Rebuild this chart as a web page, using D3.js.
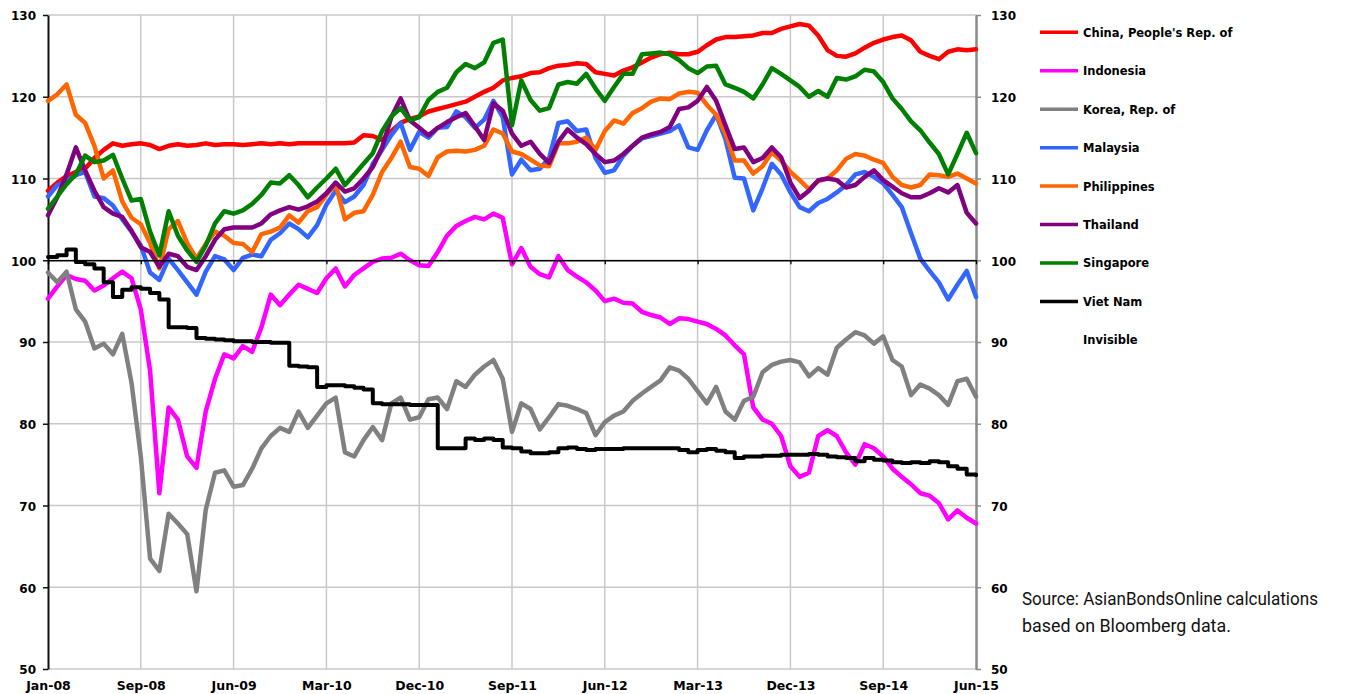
<!DOCTYPE html>
<html>
<head>
<meta charset="utf-8">
<script src="https://cdn.jsdelivr.net/npm/d3@7"></script>
<style>
  body { margin: 0; background: #fff; }
</style>
</head>
<body>
<svg id="chart" width="1349" height="694"></svg>
<script>
// x axis is a category axis: one label every 10 samples
const tickLabels = ['Jan-08', 'Sep-08', 'Jun-09', 'Mar-10', 'Dec-10', 'Sep-11',
  'Jun-12', 'Mar-13', 'Dec-13', 'Sep-14', 'Jun-15'];
const yTicks = [50, 60, 70, 80, 90, 100, 110, 120, 130];
const seriesNames = ["China, People's Rep. of", 'Indonesia', 'Korea, Rep. of', 'Malaysia',
  'Philippines', 'Thailand', 'Singapore', 'Viet Nam'];
const seriesColors = ['#ff0000', '#ff00ff', '#808080', '#3366ff', '#ff6600', '#800080', '#008000', '#000000'];

const china = [
  108.5, 109.5, 110.3, 110.8, 111.2, 112.5, 113.5, 114.3, 114.0, 114.2,
  114.3, 114.1, 113.6, 114.0, 114.2, 114.0, 114.1, 114.3, 114.1, 114.2,
  114.2, 114.1, 114.2, 114.3, 114.2, 114.3, 114.2, 114.3, 114.3, 114.3,
  114.3, 114.3, 114.3, 114.4, 115.3, 115.2, 114.7, 115.8, 116.8, 117.3,
  117.6, 118.2, 118.5, 118.8, 119.1, 119.4, 120.0, 120.6, 121.1, 122.0,
  122.3, 122.5, 122.9, 123.0, 123.5, 123.8, 123.9, 124.1, 124.0, 123.0,
  122.8, 122.6, 123.2, 123.6, 124.2, 124.8, 125.2, 125.4, 125.2, 125.2,
  125.5, 126.3, 127.0, 127.3, 127.3, 127.4, 127.5, 127.8, 127.8, 128.3,
  128.6, 128.9, 128.7, 127.5, 125.7, 125.0, 124.9, 125.3, 126.0, 126.6,
  127.0, 127.3, 127.5, 126.9, 125.5, 125.0, 124.6, 125.5, 125.8, 125.7,
  125.8
];
const indonesia = [
  95.3, 96.8, 98.2, 97.7, 97.5, 96.3, 96.9, 97.8, 98.6, 97.8,
  94.0, 86.5, 71.5, 82.0, 80.5, 76.0, 74.6, 81.5, 85.5, 88.5,
  88.0, 89.5, 88.8, 91.8, 95.8, 94.5, 95.8, 97.0, 96.5, 96.0,
  97.8, 99.0, 96.8, 98.2, 99.0, 99.8, 100.2, 100.3, 100.8, 100.0,
  99.4, 99.3, 101.0, 103.0, 104.2, 104.8, 105.3, 105.0, 105.7, 105.2,
  99.5, 101.5, 99.2, 98.3, 97.9, 100.5, 98.8, 98.0, 97.3, 96.3,
  95.0, 95.3, 94.8, 94.7, 93.7, 93.3, 93.0, 92.2, 92.9, 92.8,
  92.5, 92.2, 91.6, 90.8, 89.6, 88.5, 82.0, 80.5, 80.0, 78.5,
  74.8, 73.5, 74.0, 78.5, 79.2, 78.5, 76.5, 75.0, 77.5, 77.0,
  76.0, 74.5, 73.5, 72.6, 71.5, 71.2, 70.3, 68.3, 69.4, 68.5,
  67.8
];
const korea = [
  98.5, 97.3, 98.6, 94.0, 92.5, 89.2, 89.8, 88.5, 91.0, 85.0,
  76.0, 63.5, 62.0, 69.0, 67.8, 66.5, 59.5, 69.5, 74.0, 74.3,
  72.3, 72.5, 74.5, 77.0, 78.5, 79.5, 79.0, 81.5, 79.5, 81.0,
  82.5, 83.2, 76.5, 76.0, 78.0, 79.6, 78.0, 82.5, 83.2, 80.5,
  80.8, 83.0, 83.2, 81.8, 85.2, 84.5, 86.0, 87.0, 87.8, 85.5,
  79.0, 82.5, 81.8, 79.3, 80.8, 82.4, 82.2, 81.8, 81.3, 78.6,
  80.2, 81.0, 81.5, 82.8, 83.7, 84.5, 85.3, 86.9, 86.5, 85.5,
  84.0, 82.5, 84.5, 81.5, 80.5, 82.8, 83.3, 86.3, 87.2, 87.6,
  87.8, 87.5, 85.8, 86.8, 86.0, 89.3, 90.3, 91.2, 90.8, 89.8,
  90.7, 87.8, 87.0, 83.5, 84.8, 84.3, 83.5, 82.3, 85.2, 85.5,
  83.3
];
const malaysia = [
  107.8, 109.2, 109.7, 110.4, 110.8, 107.8, 107.6, 106.7, 105.0, 103.5,
  101.8, 98.5, 97.6, 100.2, 98.8, 97.3, 95.8, 98.6, 100.5, 100.1,
  98.8, 100.3, 100.7, 100.5, 102.5, 103.3, 104.5, 103.8, 102.8, 104.3,
  106.8, 108.5, 107.1, 107.8, 109.2, 111.8, 113.5, 115.3, 116.8, 113.5,
  115.7, 115.0, 116.2, 116.3, 118.2, 117.5, 116.2, 117.2, 119.5, 117.5,
  110.5, 112.3, 111.0, 111.2, 112.5, 116.8, 117.0, 115.8, 116.0, 112.5,
  110.7, 111.0, 112.8, 114.0, 114.9, 115.2, 115.5, 115.8, 116.5, 113.8,
  113.5, 115.9, 117.8, 114.8, 110.1, 110.0, 106.1, 108.8, 111.8, 110.5,
  108.3, 106.5, 106.0, 107.0, 107.5, 108.3, 109.2, 110.5, 110.8, 110.2,
  109.4, 108.0, 106.5, 103.3, 100.2, 98.7, 97.3, 95.2, 97.0, 98.7,
  95.5
];
const philippines = [
  119.5, 120.3, 121.5, 117.8, 116.8, 114.0, 110.0, 111.0, 107.2, 105.2,
  104.4, 102.1, 99.0, 103.8, 104.8, 102.1, 100.2, 102.0, 103.5, 103.0,
  102.1, 102.0, 101.0, 103.2, 103.5, 104.0, 105.5, 104.6, 106.0, 106.5,
  108.0, 109.3, 105.0, 105.8, 106.0, 108.0, 110.8, 112.5, 114.5, 111.4,
  111.2, 110.3, 112.6, 113.3, 113.4, 113.3, 113.5, 114.0, 116.0, 115.5,
  113.3, 113.0, 112.3, 111.6, 111.5, 114.3, 114.3, 114.5, 115.0, 113.5,
  115.8, 117.1, 116.7, 118.0, 118.6, 119.4, 119.8, 119.7, 120.4, 120.6,
  120.5, 119.0, 117.8, 115.5, 112.2, 112.2, 110.6, 111.5, 113.2, 112.2,
  110.8, 109.8, 108.7, 109.7, 110.0, 111.0, 112.4, 113.0, 112.8, 112.3,
  111.9, 110.2, 109.2, 108.9, 109.2, 110.5, 110.4, 110.2, 110.6, 110.0,
  109.4
];
const thailand = [
  105.5, 107.7, 110.5, 113.8, 111.0, 108.5, 106.5, 105.7, 105.3, 103.6,
  101.6, 101.0, 99.2, 100.8, 100.5, 99.2, 98.8, 100.5, 102.5, 103.8,
  104.0, 104.0, 104.0, 104.5, 105.6, 106.1, 106.5, 106.2, 106.6, 107.2,
  108.2, 109.5, 108.4, 108.8, 110.0, 111.4, 113.8, 117.5, 119.8, 117.1,
  116.2, 115.3, 116.2, 116.9, 117.5, 118.0, 116.4, 114.7, 119.2, 118.3,
  115.5, 114.0, 114.5, 113.0, 111.9, 114.5, 116.0, 115.0, 114.2, 113.0,
  112.0, 112.2, 113.0, 114.0, 115.0, 115.4, 115.7, 116.3, 118.5, 118.7,
  119.5, 121.2, 119.5, 116.5, 113.6, 113.8, 112.0, 112.5, 113.8, 112.6,
  109.5, 107.6, 108.5, 109.8, 110.0, 109.8, 108.9, 109.2, 110.2, 111.0,
  109.8, 109.0, 108.2, 107.7, 107.7, 108.2, 108.8, 108.3, 109.2, 105.8,
  104.5
];
const singapore = [
  106.3, 107.8, 109.3, 110.5, 112.8, 112.0, 112.2, 112.9, 110.0, 107.3,
  107.5, 103.5, 100.6, 106.0, 103.0, 101.2, 99.8, 101.8, 104.5, 106.0,
  105.7, 106.1, 106.9, 108.0, 109.5, 109.4, 110.4, 109.2, 107.7, 108.9,
  110.0, 111.2, 109.2, 110.5, 111.8, 113.1, 115.8, 117.6, 118.6, 117.1,
  117.5, 119.6, 120.6, 121.1, 123.0, 124.0, 123.5, 124.2, 126.6, 127.0,
  116.5, 122.0, 119.6, 118.3, 118.6, 121.5, 121.8, 121.6, 122.8, 121.0,
  119.5, 121.2, 122.8, 122.8, 125.2, 125.3, 125.4, 125.2, 124.5, 123.5,
  122.9, 123.7, 123.8, 121.5, 121.1, 120.6, 119.8, 121.5, 123.5, 122.8,
  122.0, 121.2, 120.0, 120.7, 120.0, 122.3, 122.1, 122.5, 123.3, 123.1,
  121.8, 119.8, 118.5, 117.0, 115.9, 114.4, 113.0, 110.5, 113.0, 115.6,
  113.1
];
const vietNam = [
  100.4, 100.6, 101.3, 99.8, 99.5, 99.0, 97.3, 95.5, 96.4, 96.7,
  96.5, 96.0, 95.2, 91.8, 91.8, 91.7, 90.5, 90.4, 90.3, 90.2,
  90.1, 90.1, 90.0, 90.0, 89.9, 89.9, 87.1, 87.0, 86.9, 84.5,
  84.7, 84.7, 84.6, 84.4, 84.2, 82.5, 82.4, 82.4, 82.4, 82.3,
  82.3, 82.3, 77.0, 77.0, 77.0, 78.2, 78.0, 78.2, 78.0, 77.1,
  77.0, 76.6, 76.4, 76.4, 76.5, 77.0, 77.1, 76.9, 76.8, 76.9,
  76.9, 76.9, 77.0, 77.0, 77.0, 77.0, 77.0, 77.0, 76.8, 76.5,
  76.8, 76.9, 76.7, 76.5, 75.8, 76.0, 76.0, 76.1, 76.1, 76.2,
  76.2, 76.2, 76.3, 76.2, 76.0, 75.9, 75.8, 75.4, 75.8, 75.6,
  75.5, 75.3, 75.2, 75.3, 75.2, 75.4, 75.3, 74.8, 74.5, 73.8,
  73.7
];
const series = [china, indonesia, korea, malaysia, philippines, thailand, singapore, vietNam];
const sourceLines = ['Source: AsianBondsOnline calculations', 'based on Bloomberg data.'];

const svg = d3.select('#chart');
const plotLeft = 48;
const plotRight = 976;
const plotTop = 15;
const plotBottom = 669;

const x = d3.scaleLinear().domain([0, tickLabels.length - 1]).range([plotLeft, plotRight]);
const y = d3.scaleLinear().domain([50, 130]).range([plotBottom, plotTop]);
const xi = i => x(i / 10);

// gridlines
svg.append('g')
  .selectAll('line')
  .data(yTicks)
  .enter()
  .append('line')
  .attr('x1', plotLeft).attr('x2', plotRight)
  .attr('y1', d => y(d)).attr('y2', d => y(d))
  .attr('stroke', '#c8c8c8')
  .attr('stroke-width', 1.5);

svg.append('g')
  .selectAll('line')
  .data(d3.range(1, tickLabels.length - 1))
  .enter()
  .append('line')
  .attr('x1', d => x(d)).attr('x2', d => x(d))
  .attr('y1', plotTop).attr('y2', plotBottom)
  .attr('stroke', '#c8c8c8')
  .attr('stroke-width', 1.5);

const styleText = (g, size) => {
  g.attr('font-family', null).attr('font-size', null);
  g.selectAll('text')
    .attr('font-family', '"DejaVu Sans", sans-serif')
    .attr('font-weight', 'bold')
    .attr('font-size', size)
    .attr('fill', '#000');
};

// left axis
svg.append('g')
  .attr('transform', `translate(${plotLeft},0)`)
  .call(d3.axisLeft(y).tickValues(yTicks).tickSize(5).tickSizeOuter(0).tickPadding(7))
  .call(g => styleText(g, 12))
  .call(g => g.selectAll('text').attr('dy', '0.4em'))
  .call(g => g.select('.domain').attr('stroke', '#111').attr('stroke-width', 2))
  .call(g => g.selectAll('.tick line').attr('stroke', '#111').attr('stroke-width', 1.5));

// right axis
svg.append('g')
  .attr('transform', `translate(${plotRight},0)`)
  .call(d3.axisRight(y).tickValues(yTicks).tickSize(5).tickSizeOuter(0).tickPadding(10))
  .call(g => styleText(g, 12))
  .call(g => g.selectAll('text').attr('dy', '0.4em'))
  .call(g => g.select('.domain').attr('stroke', '#8a8a8a').attr('stroke-width', 2.5))
  .call(g => g.selectAll('.tick line').attr('stroke', '#8a8a8a').attr('stroke-width', 1.5));

// category labels at the bottom
svg.append('g')
  .attr('transform', `translate(0,${plotBottom})`)
  .call(d3.axisBottom(x).tickValues(d3.range(tickLabels.length))
    .tickFormat(i => tickLabels[i]).tickSize(0).tickPadding(12))
  .call(g => styleText(g, 12.5))
  .call(g => g.select('.domain').remove());

// series
const line = d3.line()
  .x((d, i) => xi(i))
  .y(d => y(d));

const stepLine = d3.line()
  .x((d, i) => xi(i))
  .y(d => y(d))
  .curve(d3.curveStepAfter);

svg.append('g')
  .selectAll('path')
  .data(series)
  .enter()
  .append('path')
  .attr('d', (d, i) => (i === series.length - 1 ? stepLine(d) : line(d)))
  .attr('fill', 'none')
  .attr('stroke', (d, i) => seriesColors[i])
  .attr('stroke-width', (d, i) => (i === series.length - 1 ? 4 : 4.5))
  .attr('stroke-linejoin', 'round')
  .attr('stroke-linecap', 'round');

// horizontal axis crossing at 100
svg.append('g')
  .attr('transform', `translate(0,${y(100)})`)
  .call(d3.axisBottom(x).tickValues(d3.range(tickLabels.length)).tickFormat('').tickSize(4).tickSizeOuter(0))
  .call(g => g.select('.domain').attr('stroke', '#000').attr('stroke-width', 1.3))
  .call(g => g.selectAll('.tick line').attr('stroke', '#000').attr('stroke-width', 1.3));

// legend
const legendNames = [...seriesNames, 'Invisible'];
const legend = svg.append('g')
  .attr('transform', 'translate(1040, 32.3)');

legend.selectAll('line')
  .data(seriesNames)
  .enter()
  .append('line')
  .attr('x1', 0).attr('x2', 38)
  .attr('y1', (d, i) => i * 38.45).attr('y2', (d, i) => i * 38.45)
  .attr('stroke', (d, i) => seriesColors[i])
  .attr('stroke-width', 3.5);

legend.selectAll('text')
  .data(legendNames)
  .enter()
  .append('text')
  .attr('x', 43)
  .attr('y', (d, i) => i * 38.45 + 4.5)
  .attr('font-family', '"DejaVu Sans", sans-serif')
  .attr('font-weight', 'bold')
  .attr('font-size', 11.5)
  .text(d => d);

// source note: a condensed look, squeezed horizontally to the original widths
const sourceWidths = [296, 209];
svg.append('g')
  .selectAll('text')
  .data(sourceLines)
  .enter()
  .append('text')
  .attr('font-family', 'Roboto, "Liberation Sans", sans-serif')
  .attr('font-size', 19)
  .attr('fill', '#111')
  .text(d => d)
  .attr('transform', function (d, i) {
    const k = sourceWidths[i] / this.getComputedTextLength();
    return `translate(1022, ${605 + i * 27}) scale(${k}, 1)`;
  });
</script>
</body>
</html>
